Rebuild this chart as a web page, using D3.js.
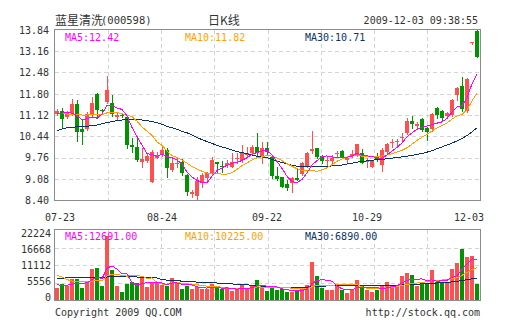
<!DOCTYPE html>
<html><head><meta charset="utf-8">
<script src="https://cdn.jsdelivr.net/npm/d3@7"></script>
<style>body{margin:0;background:#fff}svg{display:block}</style>
</head><body><svg id="c" width="505" height="330"></svg>
<script>
const openP = [11.16,11.25,11.07,11.17,11.47,10.66,10.66,11.15,11.79,11.27,
 11.55,11.51,11.05,11.13,11.07,10.16,10.09,9.61,9.66,8.99,
 9.76,9.84,10.00,9.36,9.55,9.63,9.20,8.60,8.53,8.93,
 9.09,9.27,9.63,9.49,9.52,9.47,9.73,9.68,9.84,9.91,
 10.11,9.79,10.05,9.77,9.17,9.13,8.91,8.93,9.09,9.23,
 9.49,9.98,10.05,9.81,9.66,9.66,9.86,9.97,9.68,9.81,
 9.84,9.89,9.64,9.47,9.77,9.52,9.93,10.21,10.26,10.37,
 10.53,10.94,10.77,11.00,10.71,10.66,11.33,11.25,11.10,11.12,
 11.76,12.05,11.26,13.45,13.82];
const closeP = [11.25,11.00,11.19,11.47,10.59,10.59,11.15,11.51,11.28,11.24,
 11.92,11.14,11.12,11.10,10.16,10.09,9.68,9.70,9.81,9.95,
 9.84,10.00,9.41,9.57,9.58,9.25,8.65,8.65,9.01,9.20,
 9.25,9.68,9.54,9.47,9.59,9.63,9.76,9.89,9.89,10.11,
 9.91,10.05,9.95,9.17,9.07,8.83,8.77,9.09,9.04,9.57,
 9.89,10.02,9.79,9.66,9.68,9.75,9.92,9.79,9.73,9.87,
 10.19,9.59,9.66,9.65,9.68,10.00,10.19,10.27,10.28,10.43,
 10.94,10.83,10.83,10.64,10.59,11.14,11.12,11.01,11.19,11.60,
 11.98,11.30,12.27,13.47,12.99];
const highP = [11.30,11.35,11.26,11.62,11.60,10.96,11.23,11.71,11.81,11.30,
 12.37,11.76,11.17,11.17,11.09,10.37,10.37,10.05,9.89,10.00,
 9.95,10.09,10.05,9.77,9.77,9.70,9.23,8.72,9.15,9.25,
 9.30,9.79,9.63,9.65,9.68,9.91,9.89,10.16,10.11,10.16,
 10.53,10.27,10.27,9.79,9.47,9.15,9.04,9.15,9.41,9.63,
 9.95,10.62,10.05,9.84,9.81,9.84,9.98,10.00,9.78,10.00,
 10.20,10.03,9.73,9.65,9.89,10.05,10.23,10.34,10.34,10.55,
 11.01,11.09,10.91,11.02,10.75,11.17,11.37,11.28,11.23,11.62,
 12.03,12.33,12.29,13.47,13.84];
const lowP = [11.11,10.75,11.01,11.12,10.30,10.19,10.64,11.12,11.01,11.20,
 11.51,11.09,10.98,11.05,10.05,9.95,9.66,9.47,9.63,8.99,
 9.73,9.81,9.15,9.33,9.45,9.20,8.56,8.51,8.40,8.83,
 9.05,9.25,9.31,9.31,9.47,9.46,9.59,9.63,9.79,9.84,
 9.84,9.57,9.84,9.09,9.04,8.81,8.72,8.67,9.04,9.20,
 9.47,9.89,9.73,9.59,9.52,9.55,9.82,9.77,9.63,9.79,
 9.82,9.57,9.45,9.45,9.66,9.34,9.89,10.11,10.16,10.27,
 10.51,10.69,10.69,10.62,10.32,10.62,11.01,10.96,11.07,11.09,
 11.60,11.26,11.23,13.40,12.99];
const ma5 = [11.16,11.18,11.20,11.18,11.10,10.97,11.00,11.06,11.02,11.15,
 11.42,11.42,11.34,11.30,11.09,10.72,10.43,10.15,9.89,9.85,
 9.80,9.86,9.80,9.75,9.68,9.56,9.29,9.14,9.03,8.95,
 8.95,9.16,9.34,9.43,9.51,9.58,9.60,9.67,9.75,9.86,
 9.91,9.97,9.98,9.84,9.63,9.41,9.16,8.99,8.96,9.06,
 9.27,9.52,9.66,9.79,9.81,9.78,9.76,9.76,9.77,9.81,
 9.90,9.83,9.81,9.79,9.75,9.72,9.84,9.96,10.08,10.23,
 10.42,10.55,10.66,10.73,10.77,10.81,10.86,10.90,11.01,11.21,
 11.38,11.42,11.67,12.12,12.42];
const ma10 = [11.18,11.17,11.15,11.15,11.14,11.12,11.12,11.13,11.13,11.13,
 11.19,11.21,11.20,11.16,11.12,11.07,10.92,10.74,10.60,10.47,
 10.26,10.15,9.97,9.82,9.76,9.68,9.58,9.47,9.39,9.32,
 9.26,9.23,9.24,9.23,9.23,9.27,9.38,9.50,9.59,9.68,
 9.75,9.78,9.83,9.80,9.74,9.66,9.56,9.48,9.40,9.35,
 9.34,9.34,9.32,9.37,9.43,9.53,9.64,9.71,9.78,9.81,
 9.84,9.80,9.78,9.78,9.78,9.81,9.84,9.88,9.94,9.99,
 10.07,10.19,10.31,10.41,10.50,10.61,10.71,10.78,10.87,10.99,
 11.09,11.14,11.28,11.57,11.82];
const ma30 = [10.62,10.67,10.71,10.73,10.74,10.75,10.76,10.78,10.80,10.84,
 10.88,10.91,10.94,10.96,10.98,10.98,10.97,10.96,10.94,10.91,
 10.87,10.82,10.76,10.71,10.66,10.60,10.55,10.48,10.40,10.33,
 10.27,10.21,10.15,10.10,10.05,10.00,9.95,9.92,9.88,9.84,
 9.80,9.78,9.75,9.70,9.64,9.60,9.55,9.51,9.48,9.47,
 9.47,9.47,9.47,9.48,9.48,9.49,9.50,9.52,9.55,9.58,
 9.61,9.63,9.65,9.67,9.69,9.70,9.72,9.74,9.76,9.78,
 9.80,9.83,9.86,9.89,9.93,9.98,10.04,10.10,10.16,10.22,
 10.29,10.37,10.46,10.58,10.71];
const volume = [3900,5000,4500,6600,6600,3900,5600,9800,10300,4500,
 20200,9400,4500,2650,5000,5800,5500,7200,4200,5500,
 5400,4800,4500,7000,5300,3500,4600,3400,4230,3390,
 3390,4980,3700,3390,3700,2960,3500,4980,3390,4450,
 6350,4550,2960,3810,3175,3390,2650,2650,2860,3700,
 4760,12170,7620,3810,3175,3175,4450,3175,2330,3175,
 6350,4450,3175,2650,3175,4760,5610,4760,4230,7730,
 8470,7940,4450,4980,4980,9500,5820,5290,5610,10000,
 11600,16200,13500,14000,5000];
const vma5 = [4800,4700,4700,5000,5320,5320,5440,6500,7240,6820,
 10080,10840,9780,8250,8350,5470,4690,5230,5540,5640,
 5560,5420,4880,5440,5400,5020,4980,4760,4206,3824,
 3802,3878,3938,3770,3832,3746,3450,3706,3706,3856,
 4534,4744,4340,4424,4169,3577,3197,3135,2945,3050,
 3324,5228,6222,6412,6307,5990,4446,3557,3261,3261,
 3896,3896,3896,3960,3960,3642,3874,4191,4507,5418,
 6160,6626,6564,6714,6164,6370,5946,6114,6244,7248,
 7668,9744,11386,13064,12691];
const vma10 = [7800,7300,6500,6000,5800,5900,5900,6000,6100,6070,
 7700,8140,8140,7745,7585,7775,7765,7505,6895,6995,
 5515,5055,5055,5490,5520,5290,5200,4820,4823,4612,
 4411,4429,4349,3988,3828,3774,3664,3822,3738,3844,
 4140,4097,4023,4065,4013,4056,3971,3738,3685,3610,
 3451,4213,4679,4679,4679,4657,4837,4890,4837,4784,
 4943,4171,3727,3611,3611,3769,3885,4044,4234,4689,
 4901,5250,5378,5611,5791,6265,6286,6339,6477,6704,
 7017,7843,8748,9650,10225];
const vma30 = [6900,6950,7000,7000,7050,7050,7100,7100,7150,7150,
 7300,7350,7350,7350,7350,7350,7300,7300,7300,7250,
 7000,6500,6300,6200,6100,6000,5900,5800,5700,5650,
 5550,5500,5400,5300,5200,5100,5000,4900,4800,4700,
 4600,4400,4300,4200,4100,4050,4000,4000,4000,4000,
 4050,4300,4400,4400,4450,4450,4500,4500,4500,4500,
 4550,4550,4550,4500,4500,4500,4550,4600,4650,4750,
 4850,5000,5050,5100,5200,5300,5400,5500,5600,5750,
 5950,6200,6450,6700,6890];
const dateLabels = ["07-23","08-24","09-22","10-29","12-03"];
const dateIndex = [0,21,42,62,84];
const priceTicks = [8.40,9.08,9.76,10.44,11.12,11.80,12.48,13.16,13.84];
const volTicks = [0,5556,11112,16668,22224];
const maLabels = ["MA5:12.42","MA10:11.82","MA30:10.71"];
const volMaLabels = ["MA5:12691.00","MA10:10225.00","MA30:6890.00"];

const N = closeP.length;
const svg = d3.select("#c");
const L=55,R=480,T=30,B=200,VT=230,VB=300;
const RED="#ff4f4f", GREEN="#009400";
const C5="#ff00ff", C10="#ffa200", C30="#0b335f";
const TXT="#333";
const MONO="'DejaVu Sans Mono', monospace";
const CJK="'Noto Sans CJK SC', sans-serif";

const x = d3.scaleBand().domain(d3.range(N)).range([L-0.5,R-0.5]).paddingInner(0.2).paddingOuter(0.1);
const y = d3.scaleLinear().domain([8.40,13.84]).range([B,T]);
const vy = d3.scaleLinear().domain([0,22224]).range([VB,VT]);
const vyLab = d3.scaleLinear().domain([0,22224]).range([297.3,233.3]);
const gx = d3.scaleLinear().domain([0,8]).range([L,R]);

// grids
function grid(top,bot,ys){
  const g = svg.append("g").attr("stroke","#d4d4d4").attr("stroke-dasharray","4,3").attr("shape-rendering","crispEdges");
  d3.range(1,8).forEach(k=>{
    const xx=Math.round(gx(k))+0.5;
    g.append("line").attr("x1",xx).attr("x2",xx).attr("y1",top).attr("y2",bot);
  });
  ys.forEach(v=>{
    const yy=Math.round(v)+0.5;
    g.append("line").attr("x1",L).attr("x2",R).attr("y1",yy).attr("y2",yy);
  });
}
grid(T,B,priceTicks.slice(1,-1).map(v=>y(v)));
grid(VT,VB,volTicks.slice(1,-1).map(v=>vy(v)));

const defs=svg.append("defs");
defs.append("clipPath").attr("id","cm").append("rect").attr("x",L).attr("y",T).attr("width",R-L).attr("height",B-T);
defs.append("clipPath").attr("id","cv").append("rect").attr("x",L).attr("y",VT).attr("width",R-L).attr("height",VB-VT);

// candles
const cg = svg.append("g").attr("clip-path","url(#cm)").attr("shape-rendering","crispEdges");
d3.range(N).forEach(i=>{
  const up = closeP[i]>=openP[i];
  const col = up?RED:GREEN;
  const xx = x(i);
  const wx = xx+1.5;
  cg.append("line").attr("x1",wx+0.5).attr("x2",wx+0.5)
    .attr("y1",Math.round(y(highP[i]))).attr("y2",Math.round(y(lowP[i]))+1).attr("stroke",col);
  const t = Math.round(y(Math.max(openP[i],closeP[i])));
  const b = Math.round(y(Math.min(openP[i],closeP[i])));
  cg.append("rect").attr("x",xx).attr("y",t).attr("width",x.bandwidth()).attr("height",Math.max(1,b-t)).attr("fill",col);
});
function maLine(g,data,sc,col){
  g.append("path").datum(data)
   .attr("d",d3.line().x((d,i)=>x(i)+2).y(d=>sc(d)))
   .attr("fill","none").attr("stroke",col).attr("stroke-width",1).attr("shape-rendering","crispEdges");
}
const ml = svg.append("g").attr("clip-path","url(#cm)");
maLine(ml,ma30,y,C30); maLine(ml,ma10,y,C10); maLine(ml,ma5,y,C5);

// volume
const vg = svg.append("g").attr("clip-path","url(#cv)").attr("shape-rendering","crispEdges");
vg.selectAll("rect").data(volume).join("rect")
  .attr("x",(d,i)=>x(i)).attr("width",x.bandwidth())
  .attr("y",d=>Math.round(vy(d))).attr("height",d=>VB-Math.round(vy(d)))
  .attr("fill",(d,i)=>closeP[i]>=openP[i]?RED:GREEN);
const vl = svg.append("g").attr("clip-path","url(#cv)");
maLine(vl,vma30,vy,C30); maLine(vl,vma10,vy,C10); maLine(vl,vma5,vy,C5);

// borders
[[T,B],[VT,VB]].forEach(([a,b])=>{
  svg.append("rect").attr("x",L-0.5).attr("y",a-0.5).attr("width",R-L+1).attr("height",b-a+1)
   .attr("fill","none").attr("stroke","#8c8c8c").attr("shape-rendering","crispEdges");
});

// axis labels
const tf = (sel)=>sel.attr("font-family",MONO).attr("font-size",10).attr("fill",TXT);
priceTicks.forEach(v=>{
  svg.append("text").call(tf).attr("x",49).attr("y",y(v)+3.8).attr("text-anchor","end").text(v.toFixed(2));
});
volTicks.forEach(v=>{
  svg.append("text").call(tf).attr("x",51).attr("y",vyLab(v)+3.8).attr("text-anchor","end").text(v);
});
dateIndex.forEach((idx,k)=>{
  const w = dateLabels[k].length*6.02;
  let cx = x(idx)+2;
  cx = Math.max(45+w/2, Math.min(484-w/2, cx));
  svg.append("text").call(tf).attr("x",cx).attr("y",220.5).attr("text-anchor","middle").text(dateLabels[k]);
});

// legends
const lc=[C5,C10,C30], lx=[65,185,305];
maLabels.forEach((t,k)=>svg.append("text").call(tf).attr("fill",lc[k]).attr("x",lx[k]).attr("y",40.5).text(t));
volMaLabels.forEach((t,k)=>svg.append("text").call(tf).attr("fill",lc[k]).attr("x",lx[k]).attr("y",240).text(t));

// header
svg.append("text").attr("x",55).attr("y",24.5).attr("font-family",CJK).attr("font-size",12).attr("fill",TXT).text("蓝星清洗");
svg.append("text").attr("x",101).attr("y",24).attr("font-family",MONO).attr("font-size",10.5).attr("fill",TXT).text("(000598)");
svg.append("text").attr("x",224).attr("y",24.5).attr("text-anchor","middle").attr("font-family",CJK).attr("font-size",12).attr("fill",TXT).text("日K线");
svg.append("text").call(tf).attr("x",478).attr("y",24).attr("text-anchor","end").text("2009-12-03 09:38:55");

// footer
svg.append("text").call(tf).attr("x",55).attr("y",315.5).text("Copyright 2009 QQ.COM");
svg.append("text").call(tf).attr("x",480).attr("y",315.5).attr("text-anchor","end").text("http://stock.qq.com");
</script></body></html>
